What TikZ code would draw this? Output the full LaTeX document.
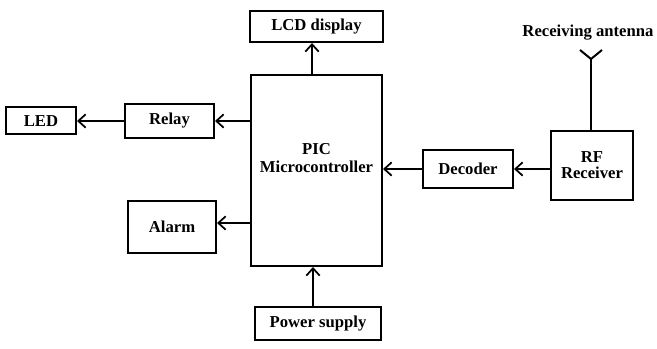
\documentclass[tikz,border=0pt]{standalone}
\usepackage{fontspec}
\setmainfont{Liberation Serif}
\usepackage{tikz}
\usetikzlibrary{
  positioning,
  arrows.meta
}

\begin{document}
\begin{tikzpicture}[
  x=0.75pt, y=-0.75pt,
  box/.style={draw, line width=1.5pt, inner sep=1pt,
              font=\fontsize{12.5}{12}\selectfont\bfseries, align=center},
  arr/.style={-{Straight Barb[length=5.5pt, width=10pt, line width=1.3pt]}, line width=1.5pt},
]
\useasboundingbox (0,0) rectangle (657,349);

\node[box, minimum width=98.25pt, minimum height=143.25pt] (pic) at (316.5,170.5) {};
\node[font=\fontsize{12.5}{14}\selectfont\bfseries, align=center] (pictext) at (316.5,158) {PIC\\Microcontroller};
\node[box, minimum width=99.75pt, minimum height=23.25pt, above=23.25pt of pic] (lcd) {LCD display};
\node[box, minimum width=94.5pt, minimum height=24.75pt] (power) at (318,323.5) {Power supply};
\node[box, minimum width=66.75pt, minimum height=25.5pt] (relay) at (169.5,121) {Relay};
\node[box, minimum width=52.5pt, minimum height=20.25pt, left=35.25pt of relay] (led) {LED};
\node[box, minimum width=66pt, minimum height=39pt] (alarm) at (172,227) {Alarm};
\node[box, minimum width=67.5pt, minimum height=28.5pt] (decoder) at (468,169) {Decoder};
\node[box, minimum width=61.5pt, minimum height=51.75pt] (rf) at (592,165.5) {RF\\Receiver};

\node[font=\fontsize{12.5}{13}\selectfont\bfseries] (antlabel) at (588,33) {Receiving antenna};
\coordinate (ant) at (591,59);

\draw[arr] (pic.north -| 312,0) -- (lcd.south -| 312,0);
\draw[arr] (power.north -| 313,0) -- (pic.south -| 313,0);
\draw[arr] (pic.west |- relay) -- (relay.east);
\draw[arr] (relay.west) -- (led.east |- relay);
\draw[arr] (pic.west |- 0,223) -- (alarm.east |- 0,223);
\draw[arr] (decoder.west) -- (pic.east |- decoder);
\draw[arr] (rf.west |- decoder) -- (decoder.east);

% antenna
\draw[line width=1.5pt] (rf.north -| ant) -- (ant);
\draw[line width=1.5pt] (580,50) -- (ant) -- (602,50);

\end{tikzpicture}
\end{document}
